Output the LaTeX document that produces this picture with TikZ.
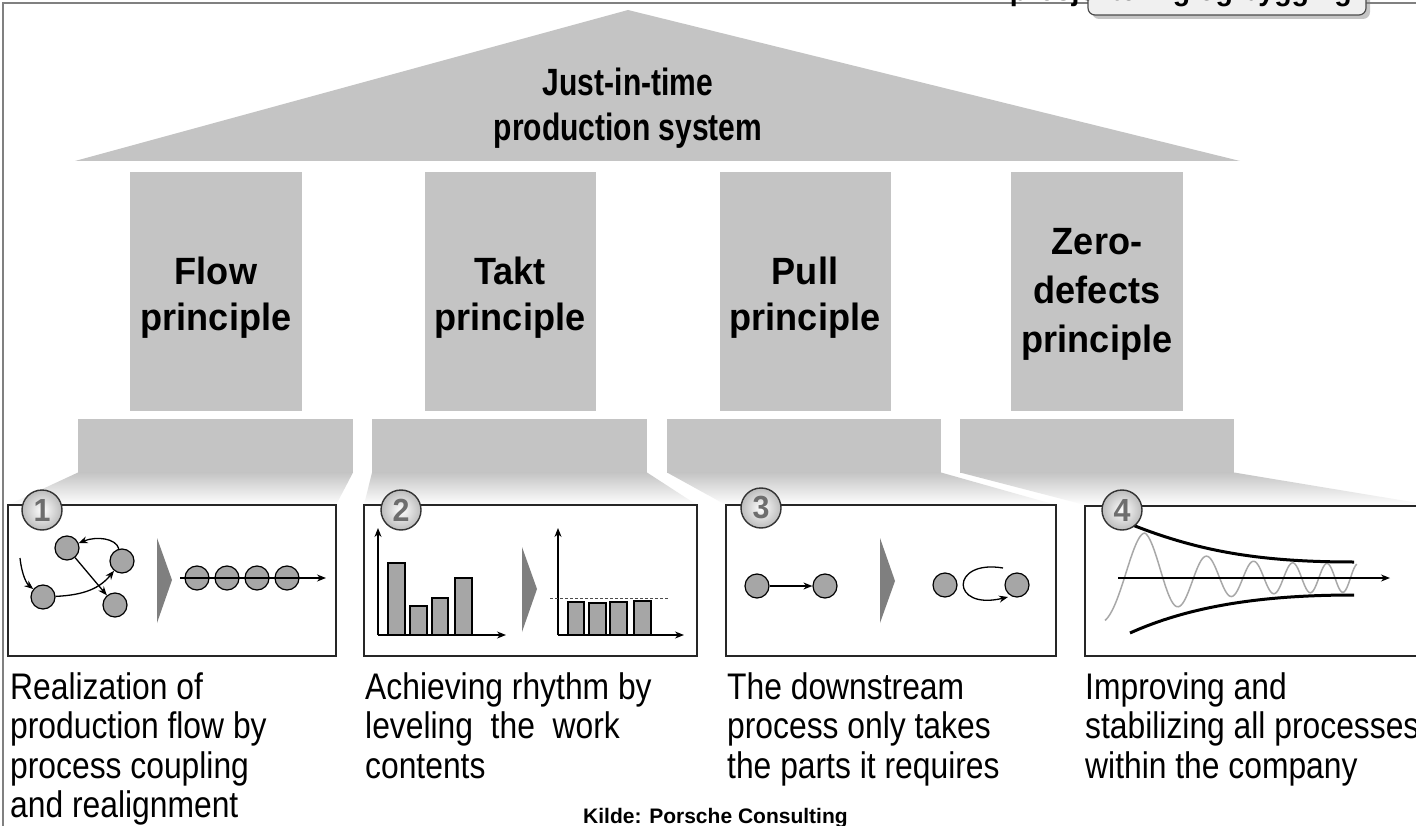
\documentclass[tikz,border=0pt]{standalone}
\usepackage{fontspec}
\setmainfont{Liberation Sans}
\newfontfamily\bodyfont{Liberation Sans}[FakeStretch=0.86]
\newfontfamily\headfont{Liberation Sans Bold}[FakeStretch=0.95]
\newfontfamily\rooffont{Liberation Sans Bold}[FakeStretch=0.79]
\usetikzlibrary{arrows.meta,shadows}
\definecolor{pgray}{HTML}{C4C4C4}
\definecolor{dotgray}{HTML}{A6A6A6}
\definecolor{chev}{HTML}{7F7F7F}
\definecolor{framec}{HTML}{808080}
\definecolor{numfill}{HTML}{DDDDDD}
\definecolor{numtext}{HTML}{6E6E6E}
\definecolor{wavec}{HTML}{A8A8A8}
\definecolor{lblfill}{HTML}{F0F0F0}
\tikzset{
  arr/.style={-{Stealth[length=9pt,width=7pt]}, line width=1.3pt},
  dot/.style={circle, draw=black, fill=dotgray, line width=1.2pt, minimum size=24pt, inner sep=0pt},
  numc/.style={circle, draw=black!80, inner color=white, outer color=numfill!85!black, line width=1.4pt, minimum size=40pt, inner sep=0pt, font=\headfont\fontsize{32}{32}\selectfont, text=numtext},
  pillar/.style={fill=pgray},
  coltext/.style={font=\headfont\fontsize{38}{46}\selectfont, align=center},
  desc/.style={font=\bodyfont\fontsize{37}{39.5}\selectfont, align=left, anchor=north west, inner sep=0pt},
  panel/.style={draw=black!85, line width=1.5pt},
  chevron/.style={fill=chev},
  bar/.style={fill=dotgray, draw=black, line width=1.2pt}
}
\begin{document}
\begin{tikzpicture}[x=1pt,y=-1pt]
\clip (0,0) rectangle (1416,826);
\fill[white] (0,0) rectangle (1416,826);
% frame
\draw[framec, line width=2.2pt] (3,826) -- (3,3) -- (1416,3);
% label box (cut off at top)
\draw[fill=lblfill, draw=black!70, line width=1.2pt, rounded corners=7pt,
      drop shadow={shadow xshift=4pt, shadow yshift=-4pt, opacity=0.45}]
  (1088,-30) rectangle (1366,15);
\node[font=\headfont\fontsize{30}{30}\selectfont, anchor=base east, inner sep=0pt] (lbl) at (1352,1) {prosjektering og bygging};
% roof
\fill[pgray] (75,161) -- (628,10) -- (1240,161) -- cycle;
\node[align=center, font=\rooffont\fontsize{38}{45}\selectfont] (roof) at (628,108) {Just-in-time\\production system};
% columns
\fill[pillar] (130,172) rectangle (302,411);
\fill[pillar] (425,172) rectangle (596,411);
\fill[pillar] (720,172) rectangle (891,411);
\fill[pillar] (1011,172) rectangle (1183,411);
\node[coltext] (p1) at (216,298) {Flow\\principle};
\node[coltext] (p2) at (510,298) {Takt\\principle};
\node[coltext] (p3) at (805,298) {Pull\\principle};
\node[coltext, font=\headfont\fontsize{38}{49}\selectfont] (p4) at (1097,294) {Zero-\\defects\\principle};
% bases
\fill[pillar] (78,419) rectangle (353,473);
\fill[pillar] (372,419) rectangle (647,473);
\fill[pillar] (667,419) rectangle (941,473);
\fill[pillar] (960,419) rectangle (1234,473);
% fading trapezoids
\shade[top color=pgray, bottom color=white] (78,472.5) -- (353,472.5) -- (336,505) -- (8,505) -- cycle;
\shade[top color=pgray, bottom color=white] (372,472.5) -- (647,472.5) -- (697,505) -- (364,505) -- cycle;
\shade[top color=pgray, bottom color=white] (667,472.5) -- (941,472.5) -- (1056,505) -- (726,505) -- cycle;
\shade[top color=pgray, bottom color=white] (960,472.5) -- (1234,472.5) -- (1430,505) -- (1085,505) -- cycle;
% panels
\draw[panel, fill=white] (8,505) rectangle (336,656);
\draw[panel, fill=white] (364,505) rectangle (697,656);
\draw[panel, fill=white] (726,505) rectangle (1056,656);
\draw[panel, fill=white] (1085,506) rectangle (1430,656);

% ---------- icon 1
\node[dot] (a1) at (67,548) {};
\node[dot] (b1) at (122,561) {};
\node[dot] (c1) at (43,597) {};
\node[dot] (d1) at (115,605) {};
\coordinate (in1) at (20,558);
\draw[arr] (in1) .. controls (22,576) and (27,584) .. (c1);
\draw[arr] (c1) .. controls (85,595) and (100,588) .. (b1);
\draw[arr] (b1) .. controls (116,538) and (96,536) .. (a1);
\draw[arr] (a1) -- (d1);
\fill[chevron] (157,538) -- (172,580) -- (157,623) -- cycle;
\node[dot] (e1) at (197,578) {};
\node[dot] (e2) at (227,578) {};
\node[dot] (e3) at (257,578) {};
\node[dot] (e4) at (287,578) {};
\coordinate (f1s) at (180,578);
\coordinate (f1e) at (326,578);
\draw[arr] (f1s) -- (f1e);

% ---------- icon 2
\coordinate (o2a) at (378,635);
\coordinate (y2a) at (378,528);
\coordinate (x2a) at (506,635);
\draw[arr] (o2a) -- (y2a);
\draw[arr] (o2a) -- (x2a);
\draw[bar] (388,635) rectangle (405,563);
\draw[bar] (410,635) rectangle (427,606);
\draw[bar] (432,635) rectangle (448,598);
\draw[bar] (455,635) rectangle (472,578);
\fill[chevron] (522,547) -- (537,589) -- (522,632) -- cycle;
\coordinate (o2b) at (558,635);
\coordinate (y2b) at (558,528);
\coordinate (x2b) at (684,635);
\draw[bar] (568,635) rectangle (584,602);
\draw[bar] (589,635) rectangle (606,603);
\draw[bar] (610,635) rectangle (627,602);
\draw[bar] (634,635) rectangle (651,601);
\draw[arr] (o2b) -- (y2b);
\draw[arr] (o2b) -- (x2b);
\draw[densely dashed, line width=0.8pt, black!70] (550,598) -- (668,598);

% ---------- icon 3
\node[dot] (g1) at (757,586) {};
\node[dot] (g2) at (825,586) {};
\draw[arr] (g1) -- (g2);
\fill[chevron] (880,538) -- (895,581) -- (880,623) -- cycle;
\node[dot] (h1) at (945,585) {};
\node[dot] (h2) at (1017,585) {};
\coordinate (k3s) at (1003,568);
\coordinate (k3e) at (1008,597);
\draw[arr] (k3s) .. controls (950,559) and (950,611) .. (k3e);

% ---------- icon 4
\draw[wavec, line width=1.5pt] plot[domain=0:2.52, samples=180, smooth]
  ({1105+100*\x}, {578 - min(45, 14+31*exp(-(100*\x-40)/45))*sin(360*(-0.1963+0.9208*\x+0.4874*\x*\x))});
\coordinate (ax4s) at (1118,578);
\coordinate (ax4e) at (1390,578);
\draw[arr] (ax4s) -- (ax4e);
\draw[line width=3pt] (1130,524) .. controls (1200,552) and (1262,562) .. (1354,562);
\draw[line width=3pt] (1130,633) .. controls (1190,606) and (1262,595) .. (1354,595);

% number circles
\node[numc] (n1) at (42,510) {1};
\node[numc] (n2) at (401,510) {2};
\node[numc] (n3) at (761,508) {3};
\node[numc] (n4) at (1122,510) {4};

% descriptions
\node[desc] (t1) at (10,672) {Realization of\\production flow by\\process coupling\\and realignment};
\node[desc] (t2) at (365,672) {Achieving rhythm by\\leveling\ \ the\ \ work\\contents};
\node[desc] (t3) at (727,672) {The downstream\\process only takes\\the parts it requires};
\node[desc] (t4) at (1085,672) {Improving and\\stabilizing all processes\\within the company};

% source
\node[font=\bfseries\fontsize{21}{21}\selectfont, anchor=base west, inner sep=0pt] (src) at (583,823) {Kilde: Porsche Consulting};
\end{tikzpicture}
\end{document}
